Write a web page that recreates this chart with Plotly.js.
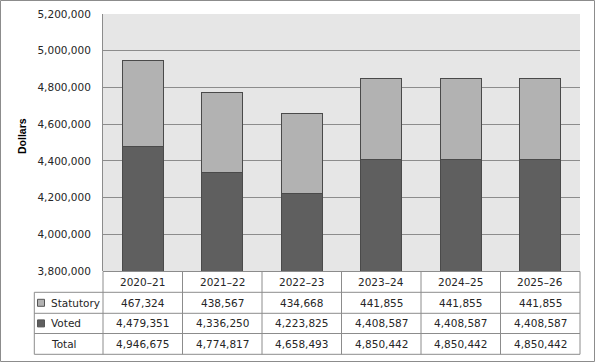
<!DOCTYPE html>
<html>
<head>
<meta charset="utf-8">
<script src="https://cdn.plot.ly/plotly-3.0.1.min.js"></script>
<style>
  html, body { margin: 0; padding: 0; background: #ffffff; }
  #chart { width: 595px; height: 362px; }
</style>
</head>
<body>
<div id="chart"></div>
<script>
// ---- Data ----
const years = ["2020–21", "2021–22", "2022–23", "2023–24", "2024–25", "2025–26"];
const statutory = [467324, 438567, 434668, 441855, 441855, 441855];
const voted = [4479351, 4336250, 4223825, 4408587, 4408587, 4408587];
const totals = [4946675, 4774817, 4658493, 4850442, 4850442, 4850442];
const seriesNames = ["Statutory", "Voted", "Total"];

// ---- Styling / layout ----
const W = 595, H = 362;
const M = { l: 103, r: 15, t: 14, b: 91 };
const plotW = W - M.l - M.r;
const plotH = H - M.t - M.b;
const statColor = "#b2b2b2";
const votedColor = "#5f5f5f";
const edgeColor = "#4a4a4a";
const gridColor = "#8c8c8c";
const textColor = "#262626";
const tickFont = { family: "DejaVu Sans", size: 10.5, color: textColor };

function py(pixY) { return (H - M.b - pixY) / plotH; }   // pixel y -> paper y
function px(pixX) { return (pixX - M.l) / plotW; }       // pixel x -> paper x

const fmt = v => v.toLocaleString("en-US");

const traces = [
  { type: "bar", name: "Voted", x: years, y: voted,
    marker: { color: votedColor, line: { color: edgeColor, width: 1 } },
    hoverinfo: "skip" },
  { type: "bar", name: "Statutory", x: years, y: statutory,
    marker: { color: statColor, line: { color: edgeColor, width: 1 } },
    hoverinfo: "skip" }
];

// Table geometry (pixels)
const rowTop = [271.5, 292.3, 313.3, 333.5];
const rowBot = 354.3;
const tableLeft = 34.3;
const labelX = 49;

const shapes = [];
const annotations = [];

// outer frame
shapes.push({ type: "rect", xref: "paper", yref: "paper",
  x0: px(0.5), x1: px(W - 0.5), y0: py(H - 0.5), y1: py(0.5),
  line: { color: "#8c8c8c", width: 1 }, fillcolor: "rgba(0,0,0,0)", layer: "below" });

// horizontal table lines
shapes.push({ type: "line", xref: "paper", yref: "paper", x0: 0, x1: 1, y0: py(rowTop[0]), y1: py(rowTop[0]), line: { color: gridColor, width: 1 } });
[rowTop[1], rowTop[2], rowTop[3], rowBot].forEach(yy => {
  shapes.push({ type: "line", xref: "paper", yref: "paper", x0: px(tableLeft), x1: 1, y0: py(yy), y1: py(yy), line: { color: gridColor, width: 1 } });
});
// vertical table lines
for (let k = 0; k <= years.length; k++) {
  shapes.push({ type: "line", xref: "paper", yref: "paper", x0: k / years.length, x1: k / years.length,
    y0: py(rowTop[0]), y1: py(rowBot), line: { color: gridColor, width: 1 } });
}
shapes.push({ type: "line", xref: "paper", yref: "paper", x0: px(tableLeft), x1: px(tableLeft),
  y0: py(rowTop[1]), y1: py(rowBot), line: { color: gridColor, width: 1 } });

// legend keys
const keyColors = [statColor, votedColor];
for (let r = 0; r < 2; r++) {
  const cy = (rowTop[r + 1] + (r + 2 < rowTop.length ? rowTop[r + 2] : rowBot)) / 2;
  shapes.push({ type: "rect", xref: "paper", yref: "paper",
    x0: px(37.5), x1: px(44.5), y0: py(cy + 3.5), y1: py(cy - 3.5),
    fillcolor: keyColors[r], line: { color: "#555555", width: 1 } });
}

// header row (years)
const rowCenters = [];
for (let r = 0; r < 4; r++) {
  rowCenters.push((rowTop[r] + (r + 1 < rowTop.length ? rowTop[r + 1] : rowBot)) / 2);
}
years.forEach((yr, i) => {
  annotations.push({ xref: "x", yref: "paper", x: yr, y: py(rowCenters[0]), text: yr,
    showarrow: false, xanchor: "center", yanchor: "middle", font: tickFont });
});
const rowsData = [statutory, voted, totals];
rowsData.forEach((arr, r) => {
  annotations.push({ xref: "paper", yref: "paper", x: px(labelX), y: py(rowCenters[r + 1]),
    text: seriesNames[r], showarrow: false, xanchor: "left", yanchor: "middle", font: tickFont });
  arr.forEach((v, i) => {
    annotations.push({ xref: "x", yref: "paper", x: years[i], y: py(rowCenters[r + 1]),
      text: fmt(v), showarrow: false, xanchor: "center", yanchor: "middle", font: tickFont });
  });
});

// y-axis title
annotations.push({ xref: "paper", yref: "paper", x: px(22), y: py(136), text: "<b>Dollars</b>",
  textangle: -90, showarrow: false, xanchor: "center", yanchor: "middle",
  font: { family: "Liberation Sans", size: 10.5, color: "#000000" } });

const layout = {
  width: W, height: H,
  margin: M,
  paper_bgcolor: "#ffffff",
  plot_bgcolor: "#e6e6e6",
  barmode: "stack",
  bargap: 0.484,
  showlegend: false,
  xaxis: { type: "category", showticklabels: false, ticks: "", showgrid: false,
    showline: false, zeroline: false, range: [-0.5, years.length - 0.5], fixedrange: true },
  yaxis: { range: [3800000, 5200000], dtick: 200000, tickformat: ",d",
    showgrid: true, gridcolor: gridColor, gridwidth: 1, zeroline: false,
    showline: true, linecolor: gridColor, linewidth: 1, ticks: "",
    ticklabelstandoff: 9, tickfont: tickFont, fixedrange: true },
  shapes: shapes,
  annotations: annotations
};

Plotly.newPlot("chart", traces, layout, { displayModeBar: false, staticPlot: true });
</script>
</body>
</html>
